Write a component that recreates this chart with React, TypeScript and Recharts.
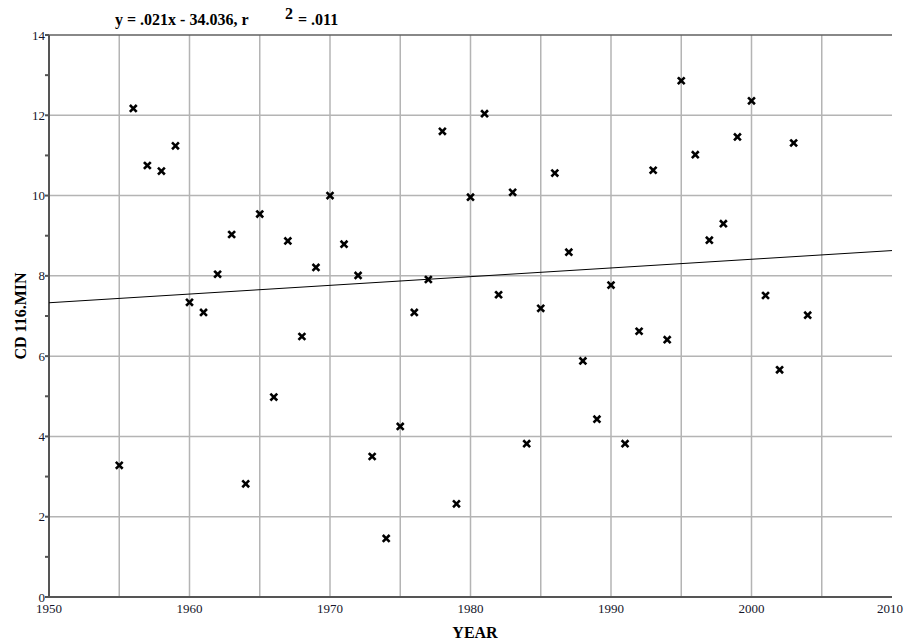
import React from 'react';
import { ScatterChart, Scatter, XAxis, YAxis, ReferenceLine } from 'recharts';

const years = [
  1955, 1956, 1957, 1958, 1959, 1960, 1961, 1962, 1963, 1964,
  1965, 1966, 1967, 1968, 1969, 1970, 1971, 1972, 1973, 1974,
  1975, 1976, 1977, 1978, 1979, 1980, 1981, 1982, 1983, 1984,
  1985, 1986, 1987, 1988, 1989, 1990, 1991, 1992, 1993, 1994,
  1995, 1996, 1997, 1998, 1999, 2000, 2001, 2002, 2003, 2004,
];
const values = [
  3.28, 12.17, 10.75, 10.61, 11.24, 7.34, 7.09, 8.04, 9.03, 2.82,
  9.54, 4.98, 8.87, 6.49, 8.21, 10.0, 8.79, 8.01, 3.5, 1.46,
  4.25, 7.09, 7.91, 11.6, 2.32, 9.96, 12.04, 7.53, 10.08, 3.82,
  7.19, 10.56, 8.59, 5.88, 4.43, 7.77, 3.82, 6.62, 10.63, 6.41,
  12.86, 11.02, 8.89, 9.3, 11.46, 12.36, 7.51, 5.66, 11.31, 7.02,
];
const trendYears = [1950, 2010];
const trendValues = [7.33, 8.63];

const xLabelTicks = [1950, 1960, 1970, 1980, 1990, 2000, 2010];
const xGridLines = [1955, 1960, 1965, 1970, 1975, 1980, 1985, 1990, 1995, 2000, 2005];
const yTicks = [0, 1, 2, 3, 4, 5, 6, 7, 8, 9, 10, 11, 12, 13, 14];
const yGridLines = [2, 4, 6, 8, 10, 12];

const points = years.map((x, i) => ({ x, y: values[i] }));
const trend = trendYears.map((x, i) => ({ x, y: trendValues[i] }));

const SERIF = '"Liberation Serif", "Times New Roman", serif';

const XMark = (props: any) => {
  const { cx, cy } = props;
  if (cx == null || cy == null) return null;
  const r = 2.5;
  return (
    <g stroke="#000" strokeWidth={2.6} strokeLinecap="square">
      <line x1={cx - r} y1={cy - r} x2={cx + r} y2={cy + r} />
      <line x1={cx - r} y1={cy + r} x2={cx + r} y2={cy - r} />
    </g>
  );
};

const NoShape = () => null;

const XTick = (props: any) => {
  const { x, y, payload } = props;
  return (
    <text x={x} y={y + 10} textAnchor="middle" fontFamily={SERIF} fontSize={13} fill="#15152a">
      {payload.value}
    </text>
  );
};

const YTick = (props: any) => {
  const { x, y, payload } = props;
  if (payload.value % 2 !== 0) return null;
  return (
    <text x={x} y={y + 4.5} textAnchor="end" fontFamily={SERIF} fontSize={13} fill="#15152a">
      {payload.value}
    </text>
  );
};

export default function App() {
  return (
    <div style={{ position: 'absolute', left: 0, top: 0, width: 906, height: 644, background: '#fff' }}>
      <ScatterChart width={906} height={644} margin={{ top: 35, right: 14, bottom: 0, left: 0 }}>
        {yGridLines.map((v) => (
          <ReferenceLine key={'h' + v} y={v} stroke="#b4b4b4" strokeWidth={1.5} />
        ))}
        {xGridLines.map((v) => (
          <ReferenceLine key={'v' + v} x={v} stroke="#b4b4b4" strokeWidth={1.5} />
        ))}
        <ReferenceLine y={14} stroke="#606060" strokeWidth={1.5} />
        <XAxis
          type="number"
          dataKey="x"
          domain={[1950, 2010]}
          ticks={xLabelTicks}
          allowDataOverflow
          height={47}
          tickLine={false}
          tickMargin={0}
          stroke="#555"
          strokeWidth={2}
          tick={XTick}
        />
        <YAxis
          type="number"
          dataKey="y"
          domain={[0, 14]}
          ticks={yTicks}
          allowDataOverflow
          width={49}
          tickSize={4}
          tickMargin={0}
          stroke="#555"
          strokeWidth={2}
          tick={YTick}
        />
        <YAxis
          yAxisId="right"
          orientation="right"
          type="number"
          dataKey="y"
          domain={[0, 14]}
          ticks={yTicks}
          width={0}
          tick={false}
          tickLine={false}
          stroke="#555"
          strokeWidth={2}
        />
        <Scatter data={trend} line={{ stroke: '#000', strokeWidth: 1 }} shape={NoShape} isAnimationActive={false} />
        <Scatter data={points} shape={XMark} isAnimationActive={false} />
      </ScatterChart>
      <svg
        width={906}
        height={644}
        style={{ position: 'absolute', left: 0, top: 0, pointerEvents: 'none' }}
      >
        <g fontFamily={SERIF} fontWeight="bold" fill="#000">
          <text x={115} y={25} fontSize={16}>y = .021x - 34.036, r</text>
          <text x={285} y={19} fontSize={16}>2</text>
          <text x={298} y={25} fontSize={16}>= .011</text>
          <text x={475} y={638} fontSize={16} textAnchor="middle">YEAR</text>
          <text x={26} y={316} fontSize={16} textAnchor="middle" transform="rotate(-90 26 316)">CD 116.MIN</text>
        </g>
      </svg>
    </div>
  );
}
